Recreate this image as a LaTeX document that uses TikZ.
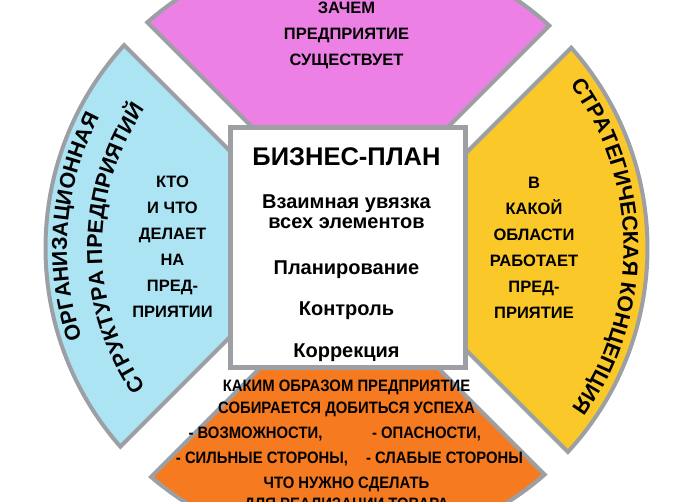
\documentclass[tikz,border=0pt]{standalone}
\usepackage{fontspec}
\setmainfont{Liberation Sans}
\newfontfamily\narrowfont{Liberation Sans}[FakeStretch=0.9]
\usetikzlibrary{decorations.text}

\definecolor{segpink}{RGB}{236,128,228}
\definecolor{segcyan}{RGB}{172,228,244}
\definecolor{segyellow}{RGB}{250,200,40}
\definecolor{segorange}{RGB}{246,122,32}
\definecolor{rimgray}{RGB}{156,160,164}

\tikzstyle{segment}=[draw=rimgray, line width=4, line join=miter]
\tikzstyle{segtext}=[align=center, font=\bfseries\fontsize{16.5}{26}\selectfont]
\tikzstyle{plantext}=[anchor=base, font=\bfseries\fontsize{20}{24}\selectfont]
\tikzstyle{ortext}=[anchor=base, font=\narrowfont\bfseries\fontsize{16.5}{20}\selectfont]
\newcommand{\curvefont}{\bfseries\fontsize{21.5}{24}\selectfont}

\begin{document}
\begin{tikzpicture}[x=1pt, y=1pt]
  \useasboundingbox (-346.5,-253) rectangle (345.5,248);
  \clip (-346.5,-253) rectangle (345.5,248);
  \fill[white] (-346.5,-253) rectangle (345.5,248);
  % four parts of the disc
  \draw[segment, fill=segpink] (3.5,23) -- (131.43:301) arc[start angle=131.43, end angle=47.62, radius=301] -- cycle;
  \draw[segment, fill=segyellow] (21,-3.5) -- (41.70:301) arc[start angle=41.70, end angle=-42.64, radius=301] -- cycle;
  \draw[segment, fill=segcyan] (-23.5,4) -- (137.63:301) arc[start angle=137.63, end angle=221.30, radius=301] -- cycle;
  \draw[segment, fill=segorange] (2.5,-31) -- (229.51:301) arc[start angle=229.51, end angle=311.16, radius=301] -- cycle;
  % centre square
  \draw[draw=rimgray, line width=5, fill=white] (-116,-119.5) rectangle (119,120.5);
  \node[anchor=base, font=\bfseries\fontsize{25.5}{28}\selectfont] (title) at (0,83) {БИЗНЕС-ПЛАН};
  \node[plantext] (link1) at (0,40) {Взаимная увязка};
  \node[plantext] (link2) at (0,20) {всех элементов};
  \node[plantext] (plan) at (0,-26) {Планирование};
  \node[plantext] (ctrl) at (0,-67) {Контроль};
  \node[plantext] (corr) at (0,-109) {Коррекция};
  % texts in the parts
  \node[segtext] (why) at (0,212.5) {ЗАЧЕМ\\ПРЕДПРИЯТИЕ\\СУЩЕСТВУЕТ};
  \node[segtext] (who) at (-174,1) {КТО\\И ЧТО\\ДЕЛАЕТ\\НА\\ПРЕД-\\ПРИЯТИИ};
  \node[segtext] (where) at (187.5,0.5) {В\\КАКОЙ\\ОБЛАСТИ\\РАБОТАЕТ\\ПРЕД-\\ПРИЯТИЕ};
  \node[ortext] (how1) at (0,-143) {КАКИМ ОБРАЗОМ ПРЕДПРИЯТИЕ};
  \node[ortext] (how2) at (0,-165) {СОБИРАЕТСЯ ДОБИТЬСЯ УСПЕХА};
  \node[ortext] (opp) at (-91,-190) {- ВОЗМОЖНОСТИ,};
  \node[ortext] (thr) at (80,-190) {- ОПАСНОСТИ,};
  \node[ortext] (str) at (-84.5,-215) {- СИЛЬНЫЕ СТОРОНЫ,};
  \node[ortext] (wea) at (98,-215) {- СЛАБЫЕ СТОРОНЫ};
  \node[ortext] (todo1) at (0,-240) {ЧТО НУЖНО СДЕЛАТЬ};
  \node[ortext] (todo2) at (0,-261) {ДЛЯ РЕАЛИЗАЦИИ ТОВАРА};
  % curved titles
  \path[decorate, decoration={text along path, text align=center, text={|\curvefont|ОРГАНИЗАЦИОННАЯ}}]
    (215.5:279.5) arc[start angle=215.5, end angle=135.5, radius=279.5];
  \path[decorate, decoration={text along path, text align=center, text={|\curvefont|СТРУКТУРА ПРЕДПРИЯТИЙ}}]
    (225:244.5) arc[start angle=225, end angle=135, radius=244.5];
  \path[decorate, decoration={text along path, text align=center, text={|\curvefont|СТРАТЕГИЧЕСКАЯ КОНЦЕПЦИЯ}}]
    (45.4:277) arc[start angle=45.4, end angle=-44.6, radius=277];
\end{tikzpicture}
\end{document}
